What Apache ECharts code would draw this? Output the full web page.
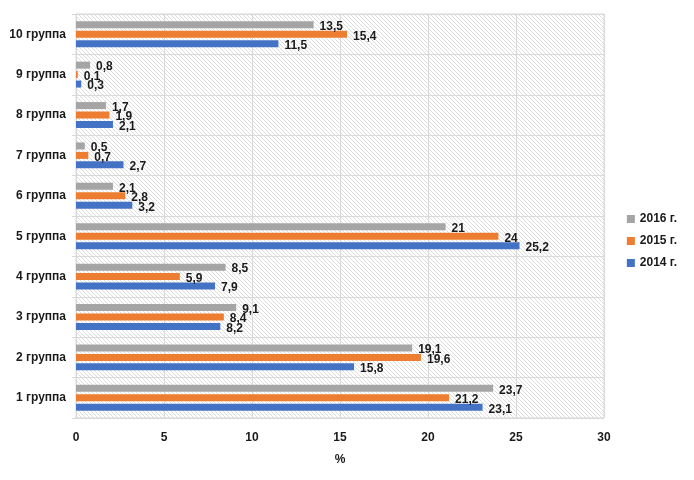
<!DOCTYPE html>
<html>
<head>
<meta charset="utf-8">
<script src="https://cdn.jsdelivr.net/npm/echarts@6/dist/echarts.min.js"></script>
<style>
  html, body { margin: 0; padding: 0; background: #fff; }
  #chart { width: 694px; height: 480px; }
</style>
</head>
<body>
<div id="chart"></div>
<script>
var groups = ["1 группа", "2 группа", "3 группа", "4 группа", "5 группа",
              "6 группа", "7 группа", "8 группа", "9 группа", "10 группа"];
var values2014 = [23.1, 15.8, 8.2, 7.9, 25.2, 3.2, 2.7, 2.1, 0.3, 11.5];
var values2015 = [21.2, 19.6, 8.4, 5.9, 24, 2.8, 0.7, 1.9, 0.1, 15.4];
var values2016 = [23.7, 19.1, 9.1, 8.5, 21, 2.1, 0.5, 1.7, 0.8, 13.5];
var xTicks = [0, 5, 10, 15, 20, 25, 30];

var font = "'Liberation Sans', Arial, sans-serif";

// Fine diagonal hatch of the plot area, one pixel per step
function makeHatch() {
    var c = document.createElement("canvas");
    c.width = 4;
    c.height = 4;
    var ctx = c.getContext("2d");
    ctx.fillStyle = "#ffffff";
    ctx.fillRect(0, 0, 4, 4);
    ctx.fillStyle = "#dddddd";
    for (var i = 0; i < 4; i++) {
        ctx.fillRect(i, i, 1, 1);
    }
    return c;
}

function makeSeries(name, data, color) {
    return {
        name: name,
        type: "bar",
        data: data,
        barWidth: 7,
        barGap: "35%",
        itemStyle: { color: color },
        label: {
            show: true,
            position: "right",
            distance: 6,
            offset: [0, 2],
            color: "#1a1a1a",
            fontFamily: font,
            fontWeight: "bold",
            fontSize: 12,
            formatter: function (p) { return String(p.value).replace(".", ","); }
        }
    };
}

var chart = echarts.init(document.getElementById("chart"));
chart.setOption({
    animation: false,
    backgroundColor: "#ffffff",
    grid: {
        left: 76, right: 90, top: 14, bottom: 62,
        show: true,
        backgroundColor: { image: makeHatch(), repeat: "repeat" },
        borderColor: "#d9d9d9",
        borderWidth: 1
    },
    legend: {
        orient: "vertical",
        right: 12,
        top: 208,
        itemGap: 10,
        itemWidth: 8,
        itemHeight: 8,
        icon: "rect",
        data: ["2016 г.", "2015 г.", "2014 г."],
        textStyle: { fontFamily: font, fontWeight: "bold", fontSize: 12, color: "#1a1a1a" }
    },
    xAxis: {
        type: "value",
        min: xTicks[0],
        max: xTicks[xTicks.length - 1],
        interval: 5,
        name: "%",
        nameLocation: "middle",
        nameGap: 36,
        nameTextStyle: { fontFamily: font, fontWeight: "bold", fontSize: 12, color: "#1a1a1a" },
        axisLine: { show: false },
        axisTick: { show: false },
        axisLabel: { fontFamily: font, fontWeight: "bold", fontSize: 12, color: "#1a1a1a", margin: 14 },
        splitLine: { show: true, lineStyle: { color: "#d9d9d9" } }
    },
    yAxis: {
        type: "category",
        data: groups,
        axisLine: { show: true, lineStyle: { color: "#d9d9d9" } },
        axisTick: { show: true, length: 4, lineStyle: { color: "#d9d9d9" } },
        axisLabel: { fontFamily: font, fontWeight: "bold", fontSize: 12, color: "#1a1a1a", margin: 10 },
        splitLine: { show: true, lineStyle: { color: "#d9d9d9" } }
    },
    // first series is drawn at the top of each band
    series: [
        makeSeries("2016 г.", values2016, "#A5A5A5"),
        makeSeries("2015 г.", values2015, "#ED7D31"),
        makeSeries("2014 г.", values2014, "#4472C4")
    ]
});
</script>
</body>
</html>
